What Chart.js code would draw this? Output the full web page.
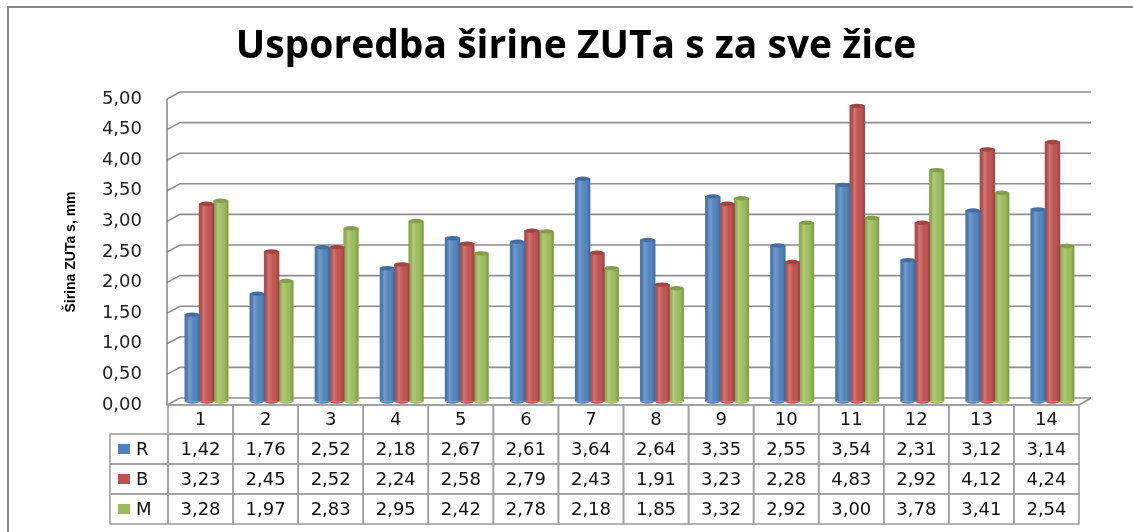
<!DOCTYPE html>
<html>
<head>
<meta charset="utf-8">
<script src="https://cdn.jsdelivr.net/npm/chart.js@4"></script>
<style>
    body { margin: 0; background: #fff; }
</style>
</head>
<body>
<canvas id="sirinaZuta" width="1133" height="532"></canvas>
<script>
const kategorije = ['1', '2', '3', '4', '5', '6', '7', '8', '9', '10', '11', '12', '13', '14'];
const nizR = [1.42, 1.76, 2.52, 2.18, 2.67, 2.61, 3.64, 2.64, 3.35, 2.55, 3.54, 2.31, 3.12, 3.14];
const nizB = [3.23, 2.45, 2.52, 2.24, 2.58, 2.79, 2.43, 1.91, 3.23, 2.28, 4.83, 2.92, 4.12, 4.24];
const nizM = [3.28, 1.97, 2.83, 2.95, 2.42, 2.78, 2.18, 1.85, 3.32, 2.92, 3.00, 3.78, 3.41, 2.54];
const nazivi = ['R', 'B', 'M'];
const boje = ['#4f81bd', '#c0504d', '#9bbb59'];
const naslov = 'Usporedba širine ZUTa s za sve žice';

const dubinaX = 12;
const dubinaY = 7;
const sivaLinija = '#8e8e8e';

function zarez(v) {
    return Number(v).toFixed(2).replace('.', ',');
}

// okvir, naslov, 3D zidovi i mreza iza stupaca
const pozadina3d = {
    id: 'pozadina3d',
    beforeDraw(chart) {
        const c = chart.ctx;
        c.save();
        c.strokeStyle = '#8a8a8a';
        c.lineWidth = 2;
        c.strokeRect(8, 7, 1300, 700);
        c.fillStyle = '#000';
        c.font = 'bold 39px "Open Sans"';
        c.textAlign = 'center';
        c.textBaseline = 'alphabetic';
        c.fillText(naslov, 576, 58);
        c.restore();
    },
    beforeDatasetsDraw(chart) {
        const c = chart.ctx;
        const {left, right, top, bottom} = chart.chartArea;
        const y = chart.scales.y;
        c.save();
        c.strokeStyle = sivaLinija;
        c.lineWidth = 1.6;
        y.ticks.forEach(t => {
            const yp = y.getPixelForValue(t.value);
            c.beginPath();
            c.moveTo(left - 1, yp);
            c.lineTo(left + dubinaX, yp - dubinaY);
            c.lineTo(right + dubinaX, yp - dubinaY);
            c.stroke();
        });
        c.beginPath();
        c.moveTo(left - 1, top);
        c.lineTo(left - 1, bottom);
        c.lineTo(right, bottom);
        c.lineTo(right + dubinaX, bottom - dubinaY);
        c.stroke();
        c.restore();
        // stupci stoje na sredini dubine
        c.save();
        c.translate(dubinaX / 2, -dubinaY / 2);
    },
    afterDatasetsDraw(chart) {
        const c = chart.ctx;
        chart.data.datasets.forEach((ds, i) => {
            chart.getDatasetMeta(i).data.forEach(bar => {
                const w = bar.width;
                const x0 = bar.x - w / 2;
                const g = c.createLinearGradient(x0, 0, x0 + w, 0);
                g.addColorStop(0, 'rgba(0,0,0,0.12)');
                g.addColorStop(0.3, 'rgba(255,255,255,0.22)');
                g.addColorStop(0.6, 'rgba(255,255,255,0.02)');
                g.addColorStop(1, 'rgba(0,0,0,0.22)');
                c.fillStyle = g;
                c.fillRect(x0, bar.y, w, bar.base - bar.y);
                c.beginPath();
                c.ellipse(bar.x, bar.y, w / 2, 2.2, 0, 0, Math.PI * 2);
                c.fillStyle = boje[i];
                c.fill();
                c.fillStyle = 'rgba(0,0,0,0.15)';
                c.fill();
                c.beginPath();
                c.ellipse(bar.x, bar.base, w / 2, 2.2, 0, 0, Math.PI);
                c.fillStyle = boje[i];
                c.fill();
            });
        });
        c.restore();
    }
};

// tablica podataka ispod grafa
const tablica = {
    id: 'tablica',
    afterDraw(chart) {
        const c = chart.ctx;
        const {left, right, bottom} = chart.chartArea;
        const x = chart.scales.x;
        const sirina = (right - left) / kategorije.length;
        const visZaglavlja = 29;
        const visReda = 30;
        const lijevoOznake = 110;
        const nizovi = [nizR, nizB, nizM];

        c.save();
        c.strokeStyle = '#a0a0a0';
        c.lineWidth = 1.6;
        c.fillStyle = '#111';
        c.font = '18px "DejaVu Sans"';
        c.textAlign = 'center';
        c.textBaseline = 'middle';

        // zaglavlje s kategorijama
        kategorije.forEach((k, i) => {
            const cx = x.getPixelForValue(i);
            c.strokeRect(cx - sirina / 2, bottom, sirina, visZaglavlja);
            c.fillText(k, cx, bottom + visZaglavlja / 2 + 1);
        });

        nizovi.forEach((niz, r) => {
            const yTop = bottom + visZaglavlja + r * visReda;
            c.strokeRect(lijevoOznake, yTop, left - lijevoOznake, visReda);
            c.fillStyle = boje[r];
            c.fillRect(lijevoOznake + 8, yTop + 10, 12, 10);
            c.fillStyle = '#111';
            c.textAlign = 'left';
            c.fillText(nazivi[r], lijevoOznake + 26, yTop + visReda / 2 + 1);
            c.textAlign = 'center';
            niz.forEach((v, i) => {
                const cx = x.getPixelForValue(i);
                c.strokeRect(cx - sirina / 2, yTop, sirina, visReda);
                c.fillText(zarez(v), cx, yTop + visReda / 2 + 1);
            });
        });
        c.restore();
    }
};

const platno = document.getElementById('sirinaZuta');

new Chart(platno, {
    type: 'bar',
    data: {
        labels: kategorije,
        datasets: [
            { label: nazivi[0], data: nizR, backgroundColor: boje[0] },
            { label: nazivi[1], data: nizB, backgroundColor: boje[1] },
            { label: nazivi[2], data: nizM, backgroundColor: boje[2] }
        ]
    },
    options: {
        responsive: false,
        animation: false,
        categoryPercentage: 0.66,
        barPercentage: 1.0,
        inflateAmount: 0.6,
        layout: {
            padding: { left: 8, right: 54, top: 99, bottom: 127 }
        },
        scales: {
            x: {
                display: false
            },
            y: {
                min: 0,
                max: 5,
                afterFit(scale) {
                    scale.width = 160;
                },
                grid: { display: false, drawTicks: false },
                border: { display: false },
                ticks: {
                    stepSize: 0.5,
                    padding: 26,
                    color: '#222',
                    font: { family: 'DejaVu Sans', size: 18 },
                    callback: v => zarez(v)
                },
                title: {
                    display: true,
                    text: 'Širina ZUTa s, mm',
                    color: '#000',
                    padding: { top: 55, bottom: 0 },
                    font: { family: 'Liberation Sans', size: 14, weight: 'bold' }
                }
            }
        },
        plugins: {
            legend: { display: false },
            tooltip: { enabled: false },
            title: { display: false }
        }
    },
    plugins: [pozadina3d, tablica]
});
</script>
</body>
</html>
